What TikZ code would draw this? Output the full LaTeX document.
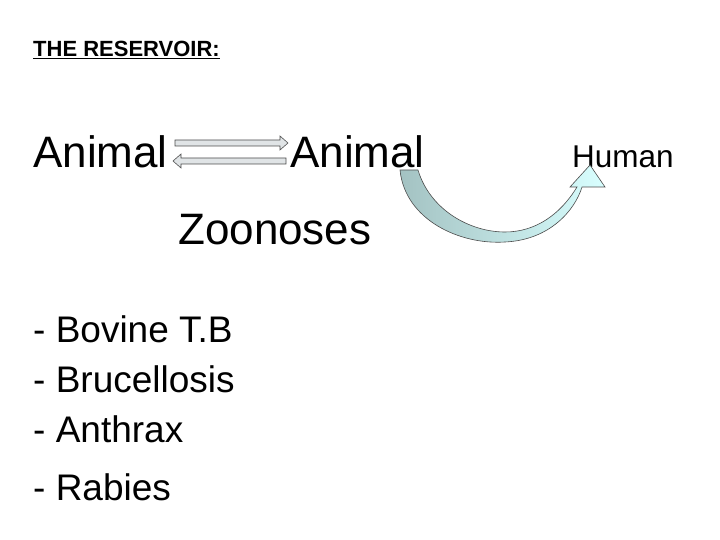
\documentclass[tikz,border=0pt]{standalone}
\usepackage{fontspec}
\setmainfont{Liberation Sans}
\begin{document}
\begin{tikzpicture}[x=1pt,y=-1pt,
  big/.style={anchor=base west,inner sep=0pt,font=\fontsize{44}{48}\selectfont},
  list/.style={anchor=base west,inner sep=0pt,font=\fontsize{37}{40}\selectfont},
  flat/.style={draw=black!70,fill=cyan!12!gray!25,line width=0.6pt}]
\useasboundingbox (0,0) rectangle (720,540);
\node[anchor=base west,inner sep=0pt,font=\bfseries\fontsize{22}{24}\selectfont] (title) at (33,57) {\underline{THE RESERVOIR:}};
\node[big] (a1) at (33,168) {Animal};
\node[big] (a2) at (290,168) {Animal};
\node[anchor=base west,inner sep=0pt,font=\fontsize{31.5}{34}\selectfont] (hum) at (572,168) {Human};
\node[big] (zoo) at (178,244) {Zoonoses};
\node[list] (l1) at (33,342) {- Bovine T.B};
\node[list] (l2) at (33,392) {- Brucellosis};
\node[list] (l3) at (33,442) {- Anthrax};
\node[list] (l4) at (33,500) {- Rabies};
% double arrows
\draw[flat] (175,140) -- (280,140) -- (280,136) -- (288,143) -- (280,150) -- (280,146) -- (175,146) -- cycle;
\draw[flat] (286,158) -- (181,158) -- (181,154) -- (173,161) -- (181,168) -- (181,164) -- (286,164) -- cycle;
% curved arrow
\draw[black!70,line width=0.6pt,left color=gray!80!cyan!60!white,right color=cyan!15!white]
  (400,170) .. controls (405,220) and (460,245) .. (505,242)
  .. controls (550,240) and (575,210) .. (582,187)
  -- (605,187) -- (590,165) -- (570,187) -- (577,187)
  .. controls (560,215) and (535,232) .. (505,232)
  .. controls (470,232) and (430,210) .. (418,170) -- cycle;
\end{tikzpicture}
\end{document}
